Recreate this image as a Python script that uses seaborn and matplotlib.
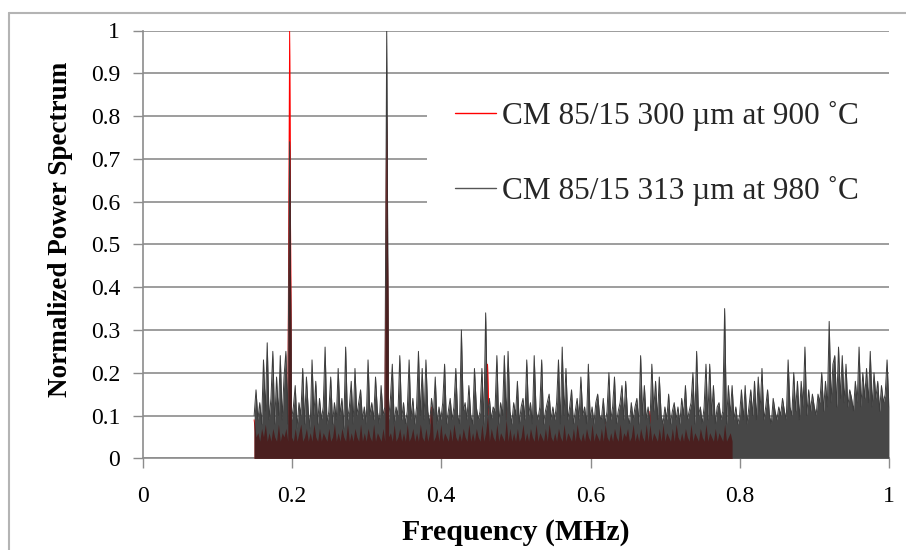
import numpy as np
import pandas as pd
import matplotlib
matplotlib.use("Agg")
import matplotlib.pyplot as plt
from matplotlib.lines import Line2D
from matplotlib.patches import Rectangle
import seaborn as sns

# Frequency grid of both spectra (MHz)
freq_start = 0.1495
freq_step = 0.0025

# Normalized power spectrum, in hundredths, CM 85/15 313 um at 980 C
power_980_pct = [
    10, 16, 9, 13, 8, 23, 11, 27, 9, 14, 25, 8, 19, 10, 24, 9, 19, 25, 8, 74,
    9, 12, 17, 7, 13, 10, 21, 8, 19, 11, 7, 23, 10, 18, 8, 14, 9, 12, 26, 8,
    11, 19, 8, 13, 9, 21, 10, 14, 7, 26, 9, 12, 18, 8, 21, 10, 13, 16, 9, 12,
    8, 23, 10, 13, 9, 19, 11, 8, 17, 10, 12, 100, 9, 14, 22, 8, 12, 10, 24, 9,
    13, 8, 11, 23, 9, 14, 8, 12, 25, 10, 21, 9, 23, 11, 8, 14, 10, 19, 8, 12,
    9, 13, 22, 8, 11, 14, 9, 12, 21, 10, 8, 30, 11, 13, 9, 17, 10, 8, 21, 12,
    9, 11, 21, 8, 34, 10, 14, 9, 12, 11, 24, 8, 13, 10, 24, 9, 25, 11, 8, 13,
    10, 18, 8, 12, 14, 9, 23, 10, 13, 8, 24, 11, 9, 12, 23, 8, 11, 13, 15, 9,
    12, 9, 13, 23, 8, 26, 10, 21, 9, 12, 16, 8, 11, 14, 9, 19, 10, 12, 8, 22,
    9, 12, 8, 13, 15, 10, 9, 14, 8, 11, 20, 9, 12, 19, 8, 11, 13, 17, 9, 18,
    10, 8, 13, 9, 12, 14, 8, 24, 10, 17, 9, 12, 8, 22, 11, 18, 9, 19, 10, 8,
    12, 9, 15, 8, 11, 13, 9, 12, 8, 14, 10, 17, 9, 11, 13, 20, 8, 25, 10, 12,
    8, 12, 22, 9, 22, 10, 17, 8, 12, 13, 9, 11, 35, 8, 17, 10, 17, 9, 12, 8,
    10, 16, 9, 17, 8, 12, 16, 10, 18, 9, 19, 11, 21, 9, 12, 16, 10, 8, 14, 11,
    9, 12, 10, 14, 11, 9, 23, 12, 10, 20, 11, 18, 9, 18, 12, 26, 10, 16, 11, 15,
    12, 10, 15, 13, 20, 11, 18, 12, 32, 13, 22, 24, 12, 26, 14, 24, 13, 22, 12, 16,
    14, 11, 18, 13, 26, 12, 20, 14, 21, 13, 25, 12, 20, 14, 18, 11, 17, 13, 15, 23,
    12,
]

# Normalized power spectrum, in hundredths, CM 85/15 300 um at 900 C
power_900_pct = [
    9, 5, 6, 4, 7, 5, 8, 4, 6, 4, 7, 5, 4, 8, 4, 6, 5, 7, 4, 100,
    5, 4, 7, 4, 6, 8, 4, 5, 7, 4, 6, 4, 8, 5, 4, 7, 4, 6, 5, 4,
    7, 4, 5, 8, 4, 6, 4, 7, 5, 4, 8, 4, 6, 4, 7, 5, 4, 8, 4, 6,
    4, 7, 5, 4, 8, 4, 6, 5, 4, 7, 4, 80, 5, 6, 4, 8, 4, 5, 7, 4,
    6, 4, 8, 4, 5, 7, 4, 6, 4, 8, 5, 4, 7, 4, 6, 12, 4, 5, 7, 4,
    8, 4, 6, 5, 4, 7, 4, 8, 5, 4, 6, 4, 7, 5, 4, 8, 4, 6, 4, 7,
    5, 4, 8, 4, 6, 22, 4, 7, 5, 4, 8, 4, 6, 5, 4, 12, 4, 7, 4, 6,
    4, 7, 4, 5, 8, 4, 6, 4, 7, 5, 4, 8, 4, 6, 5, 4, 7, 4, 8, 5,
    4, 6, 4, 7, 5, 4, 8, 4, 6, 5, 4, 7, 4, 8, 5, 4, 6, 4, 7, 5,
    4, 8, 4, 6, 5, 4, 7, 4, 9, 5, 4, 6, 4, 7, 5, 4, 8, 4, 6, 5,
    7, 4, 5, 8, 4, 6, 4, 7, 5, 4, 8, 4, 11, 4, 6, 5, 4, 7, 4, 8,
    4, 6, 5, 4, 7, 4, 8, 5, 4, 6, 4, 7, 5, 4, 8, 4, 6, 5, 4, 7,
    5, 4, 8, 4, 6, 5, 4, 7, 4, 6, 5, 4, 8, 4, 5, 6, 4,
]

label_900 = "CM 85/15 300 \u00b5m at 900 \u02daC"
label_980 = "CM 85/15 313 \u00b5m at 980 \u02daC"
x_title = "Frequency (MHz)"
y_title = "Normalized Power Spectrum"
x_ticks = [0, 0.2, 0.4, 0.6, 0.8, 1.0]
x_tick_labels = ["0", "0.2", "0.4", "0.6", "0.8", "1"]
y_ticks = [0, 0.1, 0.2, 0.3, 0.4, 0.5, 0.6, 0.7, 0.8, 0.9, 1.0]
y_tick_labels = ["0", "0.1", "0.2", "0.3", "0.4", "0.5", "0.6", "0.7", "0.8", "0.9", "1"]

p980 = np.array(power_980_pct) / 100.0
p900 = np.array(power_900_pct) / 100.0
f980 = freq_start + freq_step * np.arange(len(p980))
f900 = freq_start + freq_step * np.arange(len(p900))
df980 = pd.DataFrame({"freq": f980, "power": p980})
df900 = pd.DataFrame({"freq": f900, "power": p900})

sns.set_theme(style="white")
plt.rcParams["font.family"] = ["Liberation Serif", "DejaVu Serif"]

RED = "#ff0000"
GREY_LINE = "#3c3c3c"
GREY_FILL = "#474747"
MAROON = "#4a1f1f"
GRID = "#8c8c8c"

fig = plt.figure(figsize=(9.06, 5.5), dpi=100)
ax = fig.add_axes([142.5 / 906, 1 - 458.3 / 550, (889.3 - 142.5) / 906, (458.3 - 30.5) / 550])

# 300 um spectrum underneath
ax.fill_between(f900, 0, p900, color=RED, lw=0, zorder=3)
sns.lineplot(data=df900, x="freq", y="power", ax=ax, color=RED, lw=0.7,
             estimator=None, sort=False, legend=False, zorder=3)

# 313 um spectrum on top
ax.fill_between(f980, 0, p980, color=GREY_FILL, lw=0, zorder=4)
sns.lineplot(data=df980, x="freq", y="power", ax=ax, color=GREY_LINE, lw=0.7,
             estimator=None, sort=False, legend=False, zorder=4)

# where both spectra overlap the mixture reads dark red
overlap = np.minimum(p900, p980[: len(p900)])
ax.fill_between(f900, 0, overlap, color=MAROON, lw=0, zorder=5)

ax.set_xlim(0, 1)
ax.set_ylim(0, 1)
ax.set_xticks(x_ticks)
ax.set_xticklabels(x_tick_labels)
ax.set_yticks(y_ticks)
ax.set_yticklabels(y_tick_labels)
ax.tick_params(axis="both", direction="out", length=7, width=1.0, color=GRID,
               labelsize=17, labelcolor="black", bottom=True, left=True)
ax.tick_params(axis="y", pad=9)
ax.tick_params(axis="x", pad=13)

ax.yaxis.grid(True, color=GRID, lw=1.2, zorder=0)
ax.xaxis.grid(False)
ax.set_axisbelow(True)
for side in ("top", "right"):
    ax.spines[side].set_visible(False)
for side in ("left", "bottom"):
    ax.spines[side].set_color(GRID)
    ax.spines[side].set_linewidth(1.2)

ax.set_xlabel(x_title, fontsize=21.5, fontweight="bold", color="black")
ax.set_ylabel(y_title, fontsize=19.5, fontweight="bold", color="black")
ax.xaxis.set_label_coords(0.5, -0.143)
ax.yaxis.set_label_coords(-0.093, 0.535)

# white legend panel hiding the grid behind it
ax.add_patch(Rectangle((0.381, 0.552), 0.64, 0.313, transform=ax.transAxes,
                       facecolor="white", edgecolor="none", zorder=2, clip_on=False))
handles = [Line2D([], [], color=RED, lw=1.0), Line2D([], [], color="#555555", lw=1.0)]
ax.legend(handles, [label_900, label_980], loc="upper left",
          bbox_to_anchor=(0.4185, 0.835), borderaxespad=0, borderpad=0,
          frameon=False, fontsize=22.5, handlelength=1.3, handletextpad=0.2,
          labelspacing=1.45)

# outer chart border
fig.add_artist(Line2D([9 / 906, 9 / 906], [0, 1 - 12.5 / 550], color="#b4b4b4", lw=1.5))
fig.add_artist(Line2D([9 / 906, 1], [1 - 12.5 / 550, 1 - 12.5 / 550], color="#b4b4b4", lw=1.5))

fig.savefig("out.png", dpi=100)
